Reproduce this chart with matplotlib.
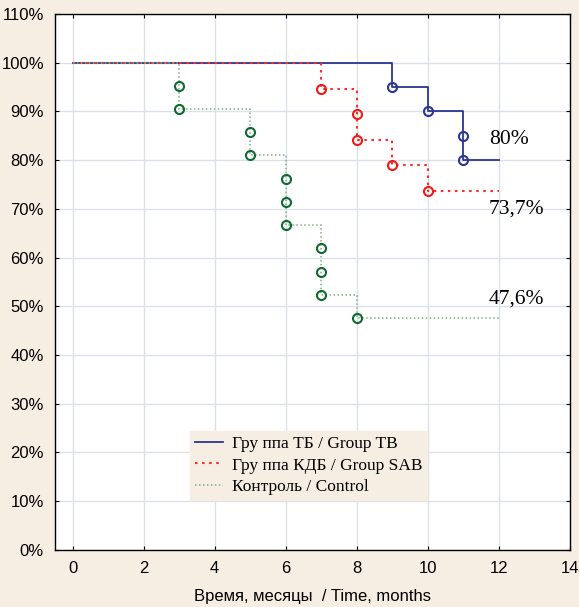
import matplotlib
matplotlib.use("Agg")
import matplotlib.pyplot as plt
from matplotlib.ticker import FuncFormatter

# Kaplan-Meier data: event times and survival (%) right after each event
tb_times = [9, 10, 11, 11]
tb_surv = [95.0, 90.0, 85.0, 80.0]
sab_times = [7, 8, 8, 9, 10]
sab_surv = [94.7, 89.5, 84.2, 78.9, 73.7]
ctrl_times = [3, 3, 5, 5, 6, 6, 6, 7, 7, 7, 8]
ctrl_surv = [95.2, 90.5, 85.7, 81.0, 76.2, 71.4, 66.7, 61.9, 57.1, 52.4, 47.6]
end_time = 12

labels = ["Гру ппа ТБ / Group TB", "Гру ппа КДБ / Group SAB", "Контроль / Control"]
final_labels = ["80%", "73,7%", "47,6%"]
x_ticks = [0, 2, 4, 6, 8, 10, 12, 14]
y_ticks = [0, 10, 20, 30, 40, 50, 60, 70, 80, 90, 100, 110]

BG = "#F6EEE3"

fig = plt.figure(figsize=(5.79, 6.07), dpi=100, facecolor=BG)
ax = fig.add_axes([0.095, 0.094, 0.889, 0.883])
ax.set_facecolor("white")

styles = [
    (tb_times, tb_surv, "#2B3593", "#2B3593", "-", 1.3),
    (sab_times, sab_surv, "#FF2A2A", "#EE1A1A", (0, (1.2, 2.2)), 1.5),
    (ctrl_times, ctrl_surv, "#7FB07F", "#0E6A30", (0, (1, 1.6)), 1.1),
]
for (times, surv, lc, mc, ls, lw), label in zip(styles, labels):
    xs = [0] + times + [end_time]
    ys = [100.0] + surv + [surv[-1]]
    ax.step(xs, ys, where="post", color=lc, linestyle=ls, linewidth=lw,
            label=label, zorder=3)
    ax.plot(times, surv, linestyle="none", marker="o", markersize=6.5,
            markerfacecolor="none", markeredgecolor=mc, markeredgewidth=1.5,
            zorder=4)

text_pos = [(11.72, 84.2), (11.72, 70.0), (11.72, 51.5)]
for (tx, ty), txt in zip(text_pos, final_labels):
    ax.text(tx, ty, txt, fontsize=15.5, family="Liberation Serif",
            ha="left", va="center", color="black")

ax.set_xlim(-0.5, 14)
ax.set_ylim(0, 110)
ax.set_xticks(x_ticks)
ax.set_yticks(y_ticks)
ax.yaxis.set_major_formatter(FuncFormatter(lambda v, p: f"{int(v)}%"))
ax.grid(True, color="#DDE1E7", linewidth=1.0, zorder=0)
ax.set_axisbelow(True)
ax.tick_params(axis="both", direction="in", length=3, width=0.8,
               top=True, right=True, labelsize=12, pad=8)
for lab in ax.get_xticklabels() + ax.get_yticklabels():
    lab.set_family("Liberation Sans")
for sp in ax.spines.values():
    sp.set_linewidth(1.0)
    sp.set_color("black")

ax.set_xlabel("Время, месяцы  / Time, months", fontsize=12,
              family="Liberation Sans", labelpad=9)

leg = ax.legend(loc="lower left", bbox_to_anchor=(0.262, 0.093),
                borderaxespad=0, frameon=True, facecolor=BG, edgecolor=BG,
                framealpha=1, fancybox=False,
                prop={"family": "Liberation Serif", "size": 12.5},
                handlelength=1.6, labelspacing=0.3, borderpad=0.3,
                handletextpad=0.5)

fig.savefig("out.png", dpi=100, facecolor=BG)
